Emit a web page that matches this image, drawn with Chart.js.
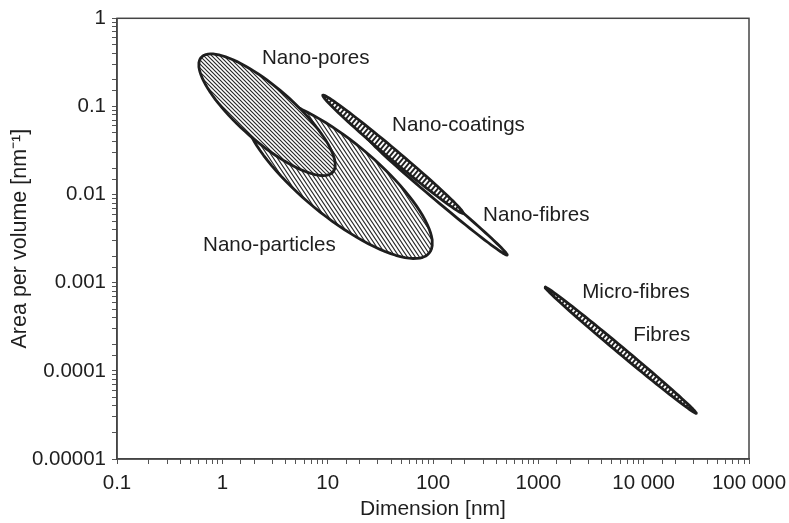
<!DOCTYPE html>
<html>
<head>
<meta charset="utf-8">
<script src="https://cdn.jsdelivr.net/npm/chart.js@4"></script>
<style>
  html, body { margin: 0; padding: 0; background: #fff; }
</style>
</head>
<body>
<canvas id="myChart" width="789" height="523"></canvas>
<script>
const regionNames = ['Nano-pores', 'Nano-particles', 'Nano-coatings', 'Nano-fibres', 'Fibres'];
const tipStartX = [0.63, 1.72, 9.0, 23.7, 1160];
const tipStartY = [0.36, 0.109, 0.134, 0.0448, 0.00089];
const tipEndX = [11.2, 92, 193, 506, 31600];
const tipEndY = [0.018, 0.00217, 0.00615, 0.00206, 0.000033];
const widthRatio = [0.31, 0.32, 0.055, 0.045, 0.035];

const labelTexts = ['Nano-pores', 'Nano-coatings', 'Nano-fibres', 'Nano-particles', 'Micro-fibres', 'Fibres'];
const labelX = [2.38, 40.9, 299, 0.656, 2606, 7943];
const labelY = [0.352, 0.0612, 0.00584, 0.00267, 0.000782, 0.000255];

const xTickValues = [0.1, 1, 10, 100, 1000, 10000, 100000];
const xTickLabels = ['0.1', '1', '10', '100', '1000', '10 000', '100 000'];
const yTickValues = [1, 0.1, 0.01, 0.001, 0.0001, 0.00001];
const yTickLabels = ['1', '0.1', '0.01', '0.001', '0.0001', '0.00001'];

window.onload = () => {
    const canvas = document.getElementById('myChart');
    const ctx = canvas.getContext('2d');
    const fontFamily = "'Liberation Sans', Arial, sans-serif";
    const ink = '#1e1e1e';

    // plot is ~105 px per decade across and ~88 px down, build ellipses in that stretched log space
    const decX = 105.3, decY = 88.2;
    function ellipse(i) {
        const u1 = Math.log10(tipStartX[i]) * decX, v1 = Math.log10(tipStartY[i]) * decY;
        const u2 = Math.log10(tipEndX[i]) * decX, v2 = Math.log10(tipEndY[i]) * decY;
        const cu = (u1 + u2) / 2, cv = (v1 + v2) / 2;
        const au = (u2 - u1) / 2, av = (v2 - v1) / 2;
        const bu = -av * widthRatio[i], bv = au * widthRatio[i];
        const pts = [];
        for (let k = 0; k <= 96; k++) {
            const t = k / 96 * 2 * Math.PI;
            const u = cu + au * Math.cos(t) + bu * Math.sin(t);
            const v = cv + av * Math.cos(t) + bv * Math.sin(t);
            pts.push({x: Math.pow(10, u / decX), y: Math.pow(10, v / decY)});
        }
        return pts;
    }

    function hatch(w, h, dir, color, lw) {
        const c = document.createElement('canvas');
        c.width = w; c.height = h;
        const g = c.getContext('2d');
        g.fillStyle = '#fff';
        g.fillRect(0, 0, w, h);
        g.strokeStyle = color;
        g.lineWidth = lw;
        g.beginPath();
        for (let k = -1; k <= 1; k++) {
            if (dir === '\\') { g.moveTo(k * w - w, -h); g.lineTo(k * w + 2 * w, 2 * h); }
            else { g.moveTo(k * w - w, 2 * h); g.lineTo(k * w + 2 * w, -h); }
        }
        g.stroke();
        return ctx.createPattern(c, 'repeat');
    }

    const fills = [
        hatch(4, 4, '\\', '#262626', 1.15),
        hatch(4, 6, '\\', '#262626', 1.15),
        hatch(5, 6, '/', '#222', 2),
        '#ffffff',
        hatch(5, 6, '/', '#222', 2)
    ];

    function tickLabel(v, vals, labels) {
        for (let j = 0; j < vals.length; j++) {
            if (Math.abs(Math.log10(v) - Math.log10(vals[j])) < 1e-6) return labels[j];
        }
        return '';
    }

    const boxPlugin = {
        id: 'box',
        afterDraw(chart) {
            const a = chart.chartArea, c = chart.ctx;
            c.save();
            c.strokeStyle = '#444';
            c.lineWidth = 1.5;
            c.strokeRect(a.left, a.top, a.right - a.left, a.bottom - a.top);
            c.restore();
        }
    };

    const labelPlugin = {
        id: 'regionLabels',
        afterDatasetsDraw(chart) {
            const c = chart.ctx, xs = chart.scales.x, ys = chart.scales.y;
            c.save();
            c.font = '20.6px ' + fontFamily;
            c.fillStyle = ink;
            c.textAlign = 'left';
            c.textBaseline = 'middle';
            labelTexts.forEach((t, i) => {
                c.fillText(t, xs.getPixelForValue(labelX[i]), ys.getPixelForValue(labelY[i]));
            });
            c.restore();
        }
    };

    const tickFont = {family: fontFamily, size: 20.5};

    new Chart(ctx, {
        type: 'scatter',
        data: {
            datasets: regionNames.map((name, i) => ({
                label: name,
                data: ellipse(i),
                showLine: true,
                fill: 'shape',
                backgroundColor: fills[i],
                borderColor: ink,
                borderWidth: 2.8,
                borderJoinStyle: 'round',
                borderCapStyle: 'round',
                pointRadius: 0,
                tension: 0
            }))
        },
        options: {
            responsive: false,
            animation: false,
            layout: { padding: { top: 18, right: 40, left: 0, bottom: 0 } },
            plugins: {
                legend: { display: false },
                tooltip: { enabled: false }
            },
            scales: {
                x: {
                    type: 'logarithmic',
                    min: 0.1,
                    max: 100000,
                    afterFit: (s) => { s.height = 64; s.paddingRight = 0; s.paddingLeft = 0; },
                    grid: { drawOnChartArea: false, tickLength: 5, color: '#555' },
                    border: { color: '#444', width: 1.5 },
                    ticks: {
                        autoSkip: false,
                        maxRotation: 0,
                        padding: 7,
                        color: ink,
                        font: tickFont,
                        callback: (v) => tickLabel(v, xTickValues, xTickLabels)
                    },
                    title: {
                        display: true,
                        text: 'Dimension [nm]',
                        color: ink,
                        font: {family: fontFamily, size: 21},
                        padding: { top: 1, bottom: 1 }
                    }
                },
                y: {
                    type: 'logarithmic',
                    min: 0.00001,
                    max: 1,
                    afterFit: (s) => { s.width = 117; },
                    grid: { drawOnChartArea: false, tickLength: 5, color: '#555' },
                    border: { color: '#444', width: 1.5 },
                    ticks: {
                        autoSkip: false,
                        padding: 6,
                        color: ink,
                        font: tickFont,
                        callback: (v) => tickLabel(v, yTickValues, yTickLabels)
                    },
                    title: {
                        display: true,
                        text: 'Area per volume [nm\u207B\u00B9]',
                        color: ink,
                        font: {family: fontFamily, size: 21.5},
                        padding: { top: 7, bottom: 0 }
                    }
                }
            }
        },
        plugins: [boxPlugin, labelPlugin]
    });
};
</script>
</body>
</html>
